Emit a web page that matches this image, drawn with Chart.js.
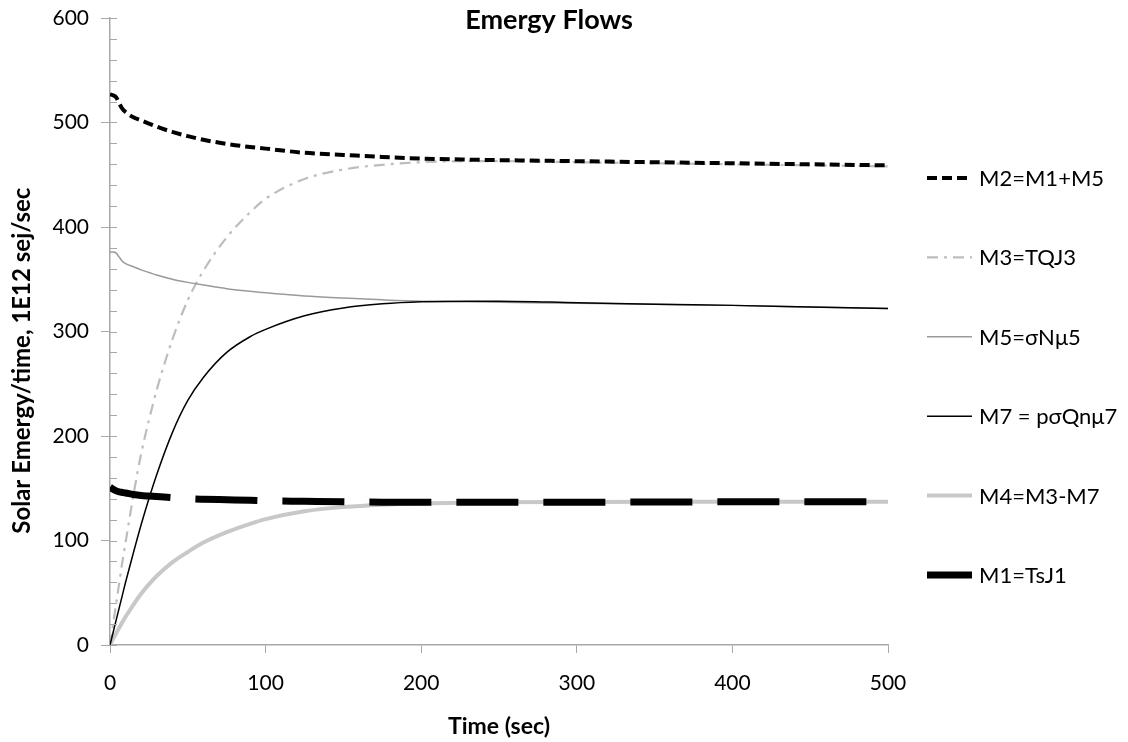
<!DOCTYPE html>
<html>
<head>
<meta charset="utf-8">
<script src="https://cdn.jsdelivr.net/npm/chart.js@4.4.1/dist/chart.umd.min.js"></script>
<style>
html,body{margin:0;padding:0;background:#fff;}
#wrap{position:relative;width:1128px;height:742px;}
</style>
</head>
<body>
<div id="wrap"><canvas id="c" width="1128" height="742"></canvas></div>
<script>
// ---- data ----
const chartTitle = 'Emergy Flows';
const xTitle = 'Time (sec)';
const yTitle = 'Solar Emergy/time, 1E12 sej/sec';
const times = [0, 2, 4, 6, 8, 10, 15, 20, 25, 30, 40, 50, 60, 75, 90, 100, 125, 150, 175, 200, 230, 250, 300, 350, 400, 450, 500];
const seriesLabels = ['M2=M1+M5', 'M3=TQJ3', 'M5=σNμ5', 'M7 = pσQnμ7', 'M4=M3-M7', 'M1=TsJ1'];
const m2 = [527, 526, 524, 518, 513, 510, 505, 502, 499, 496, 491, 487, 483.5, 479.5, 476.5, 475, 471, 469, 467, 465.5, 464.5, 464, 463, 462, 461, 460, 459];
const m3 = [0, 20, 40, 60, 80, 98, 143, 183, 215, 244, 292, 330, 358, 390, 414, 427, 446, 455, 459.5, 462, 463, 463, 462, 461, 460, 459, 458];
const m5 = [376, 376, 375, 371, 367, 365, 362, 359, 356.5, 354, 350, 347, 344.5, 341, 338.5, 337, 334, 332, 330.3, 329, 328.5, 328, 327, 326, 325, 323.5, 322];
const m7 = [0, 12, 24, 36, 48, 60, 88, 115, 140, 163, 203, 234, 256, 280, 295, 302, 315, 322.5, 326.5, 328.5, 329, 329, 327.5, 326, 325, 323.5, 322];
const m4 = [0, 5.8, 11.4, 16.8, 22, 27, 38.5, 49, 58, 66, 79, 89, 98, 108, 116, 120.5, 128, 132, 134.3, 135.5, 136.2, 136.5, 136.8, 137, 137, 137, 137];
const m1 = [151, 149, 147.5, 146.5, 146, 145.5, 144, 143, 142.5, 142, 141, 140, 139.5, 139, 138.5, 138, 137.5, 137, 136.7, 136.5, 136.5, 136.5, 136.6, 136.8, 137, 137, 137];
const xTicks = [0, 100, 200, 300, 400, 500];
const yTicks = [0, 100, 200, 300, 400, 500, 600];

// ---- styling ----
const FONT = 'Lato, "Open Sans", sans-serif';
const AXIS = '#a8a8a8';
const pairs = vals => times.map((t, i) => ({x: t, y: vals[i]}));

const styles = [
  {borderColor: '#000000', borderWidth: 4, borderDash: [10, 5], order: 1},
  {borderColor: '#bdbdbd', borderWidth: 2.2, borderDash: [11, 6, 3, 6], order: 4},
  {borderColor: '#9a9a9a', borderWidth: 1.5, borderDash: [], order: 3},
  {borderColor: '#000000', borderWidth: 1.5, borderDash: [], order: 2},
  {borderColor: '#c8c8c8', borderWidth: 4, borderDash: [], order: 5},
  {borderColor: '#000000', borderWidth: 7, borderDash: [62, 25], order: 0}
];
const seriesValues = [m2, m3, m5, m7, m4, m1];

const datasets = seriesValues.map((vals, i) => Object.assign({
  label: seriesLabels[i],
  data: pairs(vals),
  pointRadius: 0,
  pointHoverRadius: 0,
  fill: false,
  cubicInterpolationMode: 'monotone',
  borderCapStyle: 'butt',
  borderJoinStyle: 'round'
}, styles[i]));

// plugin: chart title drawn over plot top
const titlePlugin = {
  id: 'overTitle',
  afterDraw(chart) {
    const ctx = chart.ctx;
    ctx.save();
    ctx.font = 'bold 27px ' + FONT;
    ctx.fillStyle = '#000';
    ctx.textAlign = 'center';
    ctx.textBaseline = 'middle';
    ctx.fillText(chartTitle, 549, 20);
    ctx.restore();
  }
};

// plugin: inner minor ticks on the y axis
const minorTicks = {
  id: 'minorTicks',
  afterDraw(chart) {
    const ys = chart.scales.y;
    const ctx = chart.ctx;
    const x0 = chart.chartArea.left;
    ctx.save();
    ctx.strokeStyle = AXIS;
    ctx.lineWidth = 1;
    for (let v = ys.min; v <= ys.max; v += 20) {
      const py = Math.round(ys.getPixelForValue(v)) + 0.5;
      ctx.beginPath();
      ctx.moveTo(x0, py);
      ctx.lineTo(x0 + 7, py);
      ctx.stroke();
    }
    ctx.restore();
  }
};

// plugin: vertical legend at the right
const sideLegend = {
  id: 'sideLegend',
  afterDraw(chart) {
    const ctx = chart.ctx;
    ctx.save();
    chart.data.datasets.forEach((ds, i) => {
      const y = 178 + i * 79.4;
      ctx.beginPath();
      ctx.setLineDash(ds.borderDash || []);
      ctx.lineWidth = ds.borderWidth;
      ctx.strokeStyle = ds.borderColor;
      ctx.lineCap = 'butt';
      ctx.moveTo(927, y);
      ctx.lineTo(972, y);
      ctx.stroke();
      ctx.setLineDash([]);
      ctx.fillStyle = '#000';
      ctx.font = '22px ' + FONT;
      ctx.textAlign = 'left';
      ctx.textBaseline = 'middle';
      ctx.fillText(ds.label, 979, y + 1);
    });
    ctx.restore();
  }
};

new Chart(document.getElementById('c'), {
  type: 'line',
  data: {datasets},
  plugins: [titlePlugin, minorTicks, sideLegend],
  options: {
    responsive: false,
    animation: false,
    devicePixelRatio: 1,
    layout: {padding: {top: 18, right: 240, left: 0, bottom: 0}},
    plugins: {
      legend: {display: false},
      tooltip: {enabled: false},
      title: {display: false}
    },
    scales: {
      x: {
        type: 'linear',
        min: 0, max: 500,
        afterBuildTicks: s => { s.ticks = xTicks.map(v => ({value: v})); },
        afterFit: s => { s.height = 97; },
        ticks: {color: '#000', font: {family: FONT, size: 21}, padding: 18},
        grid: {display: true, drawOnChartArea: false, drawTicks: true, tickLength: 8, color: AXIS, lineWidth: 1},
        border: {display: true, color: AXIS, width: 1.5},
        title: {display: true, text: xTitle, color: '#000', font: {family: FONT, size: 23, weight: 'bold'}, padding: {top: 0, bottom: 2}}
      },
      y: {
        type: 'linear',
        min: 0, max: 600,
        afterBuildTicks: s => { s.ticks = yTicks.map(v => ({value: v})); },
        afterFit: s => { s.width = 110; s.paddingTop = 0; s.paddingBottom = 0; },
        ticks: {color: '#000', font: {family: FONT, size: 21}, padding: 12},
        grid: {display: true, drawOnChartArea: false, drawTicks: true, tickLength: 9, color: AXIS, lineWidth: 1},
        border: {display: true, color: AXIS, width: 1.5},
        title: {display: true, text: yTitle + '          ', color: '#000', font: {family: FONT, size: 24, weight: 'bold'}, padding: {top: 8, bottom: 0}}
      }
    }
  }
});
</script>
</body>
</html>
